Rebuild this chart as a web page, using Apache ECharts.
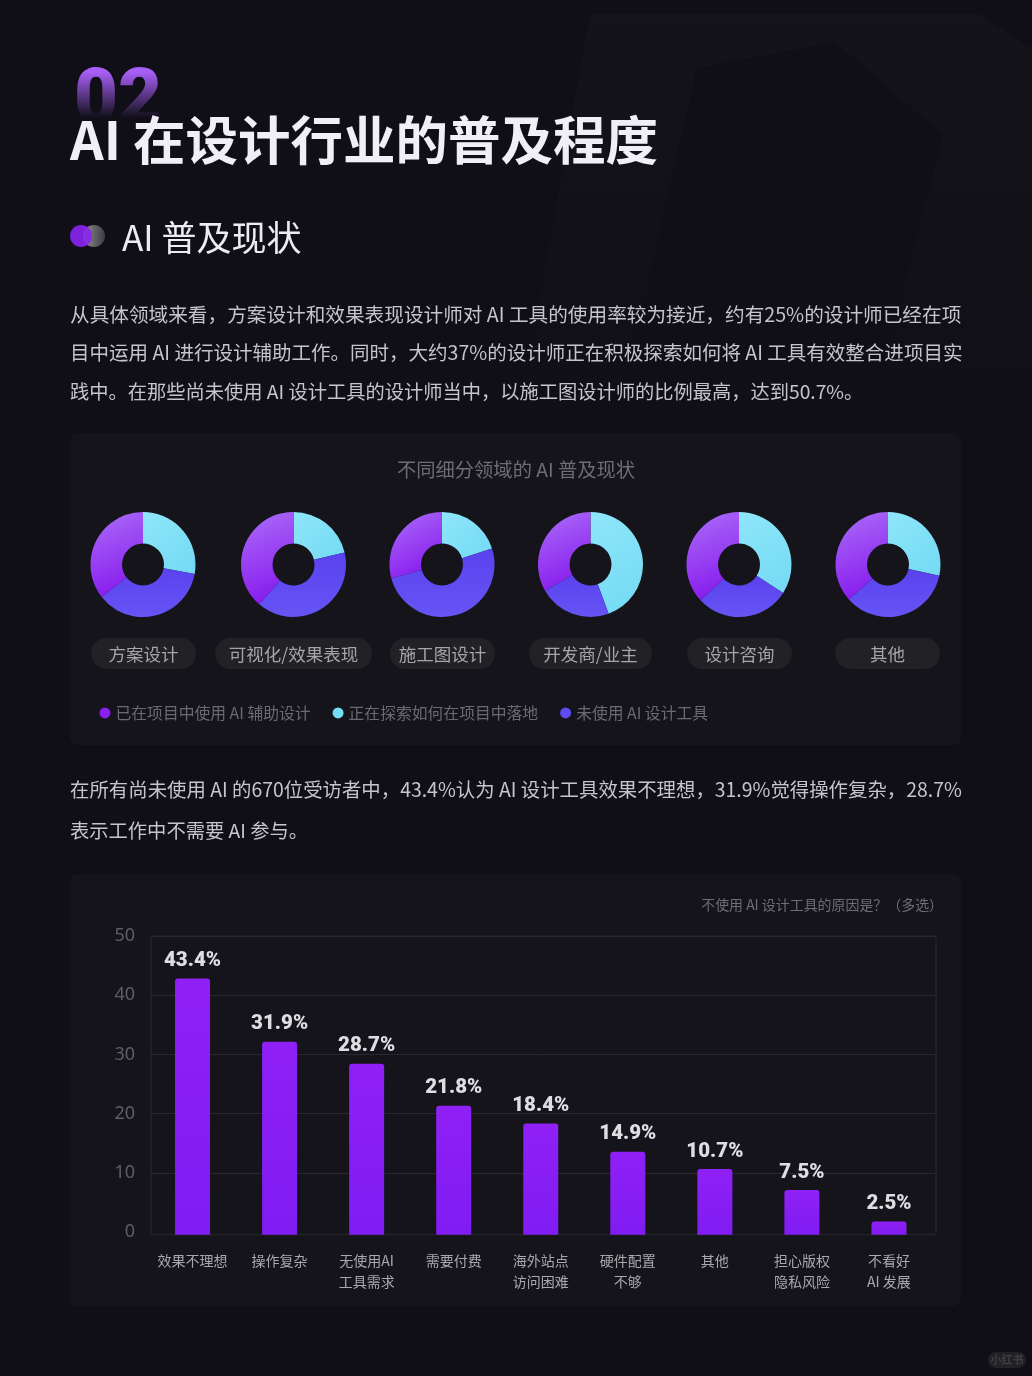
<!DOCTYPE html>
<html lang="zh">
<head>
<meta charset="utf-8"/>
<title>AI 在设计行业的普及程度</title>
<style>
html,body{margin:0;padding:0;background:#100f17;}
#chart{width:1032px;height:1376px;}
</style>
<script src="https://cdn.jsdelivr.net/npm/echarts@6/dist/echarts.min.js"></script>
</head>
<body>
<div id="chart"></div>
<script type="text/javascript">
// pie data (percent)
var pieNames = ['方案设计', '可视化/效果表现', '施工图设计', '开发商/业主', '设计咨询', '其他'];
var usedValues = [35.6, 38.7, 29.2, 33.3, 36.9, 36.6];
var exploringValues = [27.9, 21.3, 20.1, 44.4, 34.1, 28.4];
var notUsedValues = [36.5, 40.0, 50.7, 22.3, 29.0, 35.0];
var legendNames = ['已在项目中使用 AI 辅助设计', '正在探索如何在项目中落地', '未使用 AI 设计工具'];

// bar data: bar heights as drawn, and the labels as printed
var barCategories = ['效果不理想', '操作复杂', '无使用AI\n工具需求', '需要付费', '海外站点\n访问困难', '硬件配置\n不够', '其他', '担心版权\n隐私风险', '不看好\nAI 发展'];
var barValues = [42.9, 32.3, 28.6, 21.6, 18.6, 13.9, 11.0, 7.5, 2.2];
var barLabels = ['43.4%', '31.9%', '28.7%', '21.8%', '18.4%', '14.9%', '10.7%', '7.5%', '2.5%'];

var paragraphOne = [
	'从具体领域来看，方案设计和效果表现设计师对 AI 工具的使用率较为接近，约有25%的设计师已经在项',
	'目中运用 AI 进行设计辅助工作。同时，大约37%的设计师正在积极探索如何将 AI 工具有效整合进项目实',
	'践中。在那些尚未使用 AI 设计工具的设计师当中，以施工图设计师的比例最高，达到50.7%。'
];
var paragraphTwo = [
	'在所有尚未使用 AI 的670位受访者中，43.4%认为 AI 设计工具效果不理想，31.9%觉得操作复杂，28.7%',
	'表示工作中不需要 AI 参与。'
];

// layout
var cjk = '"Noto Sans CJK SC", "Noto Sans", sans-serif';
var bg = '#100f17';
var pieCenterX = [143, 293.5, 442, 590.5, 739, 888];
var pillBox = [[91, 196], [215, 372], [390, 495], [529, 652], [687, 792], [835, 940]];

function grad(x, y, x2, y2, c1, c2) {
	return new echarts.graphic.LinearGradient(x, y, x2, y2, [{offset: 0, color: c1}, {offset: 1, color: c2}]);
}
var cyanFill = grad(0, 0, 1, 1, '#8fe6fa', '#72daf3');
var blueFill = grad(0, 0, 0, 1, '#5a42ee', '#6654f4');
var purpleFill = grad(0.1, 0, 0.8, 1, '#ab6cf8', '#8414ec');

function text(x, y, str, size, color, extra) {
	var style = {x: x, y: y, text: str, fontSize: size, fill: color, fontFamily: cjk, verticalAlign: 'middle', align: 'left'};
	for (var k in (extra || {})) style[k] = extra[k];
	return {type: 'text', z: 5, style: style};
}
function box(x, y, w, h, r, fill, z) {
	return {type: 'rect', z: z, shape: {x: x, y: y, width: w, height: h, r: r}, style: {fill: fill}};
}

var graphics = [
	// faint background shapes
	{type: 'polygon', z: -20, shape: {points: [[590, 14], [980, 14], [1032, 50], [1032, 440], [515, 440]]}, style: {fill: grad(0, 0, 0, 1, '#141319', bg)}},
	{type: 'polygon', z: -19, shape: {points: [[697, 68], [835, 42], [943, 135], [880, 380], [625, 380]]}, style: {fill: bg}},
	box(70, 433, 891, 312, 8, '#15141b', -10),
	box(70, 874, 891, 432, 8, '#15141b', -10),
	// heading: number fades out under the title
	{type: 'text', z: 3, style: {x: 74, y: 65, text: '02', fontSize: 76, fontWeight: 900, fontFamily: 'Roboto', verticalAlign: 'top', fill: '#a85ff7'}},
	box(70, 72, 96, 46, 0, grad(0, 0, 0, 1, 'rgba(16,15,23,0)', 'rgba(16,15,23,1)'), 4),
	box(70, 118, 96, 22, 0, bg, 4),
	text(70, 140, 'AI 在设计行业的普及程度', 52.5, '#f1eff5', {fontWeight: 700}),
	{type: 'circle', z: 4, shape: {cx: 94, cy: 236, r: 11}, style: {fill: grad(0, 0, 1, 0, '#8f8f92', '#3d3c42')}},
	{type: 'circle', z: 5, shape: {cx: 81, cy: 236, r: 11}, style: {fill: '#8a24f0', opacity: 0.9}},
	text(122, 238, 'AI 普及现状', 35, '#ecebef'),
	// card captions
	text(516, 470, '不同细分领域的 AI 普及现状', 19.3, '#6e6d73', {align: 'center'}),
	text(943, 905, '不使用 AI 设计工具的原因是？（多选）', 13.95, '#6e6d73', {align: 'right'}),
	// frame of the bar plot
	{type: 'rect', z: -2, shape: {x: 151, y: 936, width: 785, height: 298.7, r: 2}, style: {fill: 'none', stroke: '#29282e', lineWidth: 1}},
	// watermark
	box(988, 1352, 38, 16, 8, '#222126', 4),
	text(1007, 1360, '小红书', 11, '#3f3e44', {align: 'center', fontWeight: 700})
];
// first lines are justified in the original, hence the slightly different sizes
paragraphOne.forEach(function (line, i) {
	graphics.push(text(70, [315, 353, 392][i], line, [19.65, 19.52, 19.25][i], '#c6c5ca'));
});
paragraphTwo.forEach(function (line, i) {
	graphics.push(text(70, [790, 831][i], line, [19.41, 19.3][i], '#c6c5ca'));
});
pieNames.forEach(function (name, i) {
	var b = pillBox[i];
	graphics.push(box(b[0], 638, b[1] - b[0], 31, 15.5, '#222126', -5));
	graphics.push(text((b[0] + b[1]) / 2, 654, name, 17.5, '#a6a5aa', {align: 'center'}));
});

var pieSeries = pieNames.map(function (name, i) {
	return {
		type: 'pie',
		name: name,
		center: [pieCenterX[i], 564.5],
		radius: [21, 52.5],
		startAngle: 90,
		clockwise: true,
		silent: true,
		animation: false,
		label: {show: false},
		labelLine: {show: false},
		data: [
			{name: legendNames[1], value: exploringValues[i], itemStyle: {color: cyanFill}},
			{name: legendNames[2], value: notUsedValues[i], itemStyle: {color: blueFill}},
			{name: legendNames[0], value: usedValues[i], itemStyle: {color: purpleFill}}
		]
	};
});

var chart = echarts.init(document.getElementById('chart'), null, {renderer: 'canvas'});
chart.setOption({
	backgroundColor: bg,
	animation: false,
	graphic: {elements: graphics},
	legend: {
		left: 99.5,
		top: 705,
		padding: 0,
		icon: 'circle',
		itemWidth: 11,
		itemHeight: 11,
		itemGap: 22,
		selectedMode: false,
		textStyle: {color: '#6b6a70', fontSize: 15.8, fontFamily: cjk},
		data: [
			{name: legendNames[0], itemStyle: {color: '#8a1ff0'}},
			{name: legendNames[1], itemStyle: {color: '#74dcf5'}},
			{name: legendNames[2], itemStyle: {color: '#5f4bf2'}}
		]
	},
	// grid 0 carries the grid lines and the y axis, grid 1 carries the bars
	grid: [
		{left: 151, width: 785, top: 936, height: 296},
		{left: 149, width: 783.5, top: 936, height: 298.7}
	],
	xAxis: [
		{gridIndex: 0, type: 'value', min: 0, max: 1, show: false},
		{
			gridIndex: 1,
			type: 'category',
			data: barCategories,
			axisLine: {show: false},
			axisTick: {show: false},
			axisLabel: {color: '#a9a8ad', fontSize: 14, lineHeight: 21, margin: 15, fontFamily: cjk, interval: 0}
		}
	],
	yAxis: [
		{
			gridIndex: 0,
			type: 'value',
			min: 0,
			max: 50,
			interval: 10,
			axisLine: {show: false},
			axisTick: {show: false},
			axisLabel: {color: '#5f5e64', fontSize: 18, margin: 16, padding: [4, 0, 0, 0], fontFamily: '"Noto Sans", sans-serif'},
			splitLine: {show: true, showMinLine: false, lineStyle: {color: '#29282e', width: 1}}
		},
		{gridIndex: 1, type: 'value', min: 0, max: 50, show: false}
	],
	series: pieSeries.concat([{
		type: 'bar',
		xAxisIndex: 1,
		yAxisIndex: 1,
		data: barValues,
		barWidth: 35,
		silent: true,
		itemStyle: {color: grad(0, 0, 0, 1, '#8f20f6', '#801cf2'), borderRadius: [3, 3, 0, 0]},
		label: {
			show: true,
			position: 'top',
			distance: 7,
			color: '#dedde2',
			fontFamily: 'Roboto',
			fontWeight: 900,
			fontSize: 20.5,
			formatter: function (p) { return barLabels[p.dataIndex]; }
		}
	}])
});
</script>
</body>
</html>
